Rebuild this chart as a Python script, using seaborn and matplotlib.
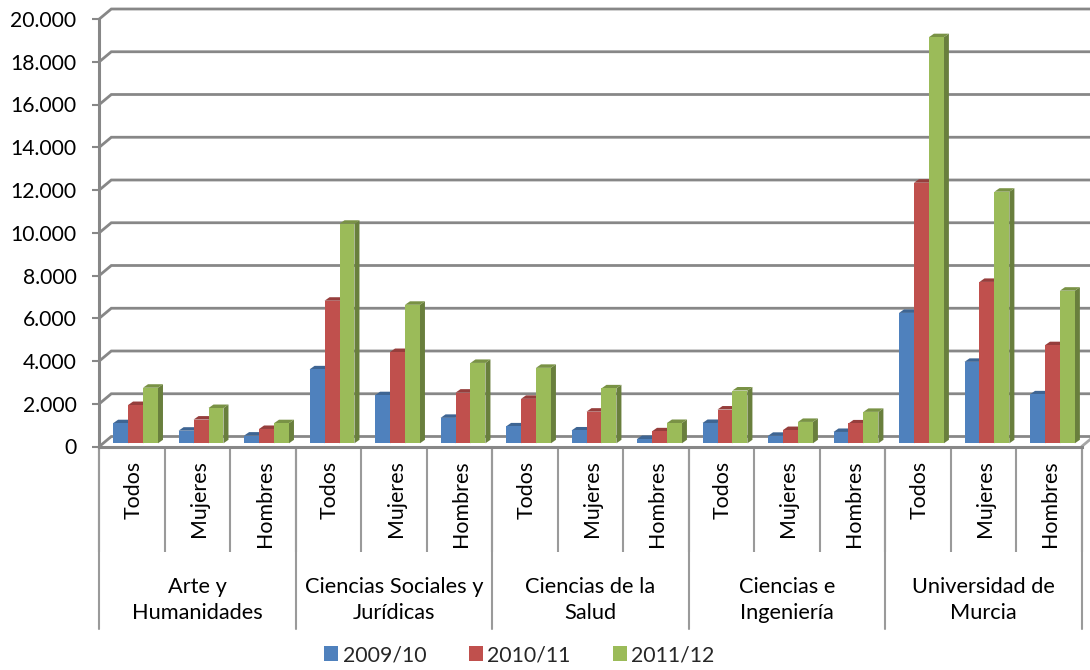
import matplotlib
matplotlib.use("Agg")
import matplotlib.pyplot as plt
from matplotlib.patches import Polygon
from matplotlib.colors import to_rgb
from matplotlib.transforms import ScaledTranslation
import pandas as pd
import seaborn as sns

groups = ["Arte y\nHumanidades", "Ciencias Sociales y\nJurídicas", "Ciencias de la\nSalud",
          "Ciencias e\nIngeniería", "Universidad de\nMurcia"]
subgroups = ["Todos", "Mujeres", "Hombres"]
years = ["2009/10", "2010/11", "2011/12"]
colors = ["#4F81BD", "#C0504D", "#9BBB59"]
v2009 = [940, 590, 360, 3460, 2250, 1190, 790, 600, 200, 950, 350, 530, 6100, 3810, 2290]
v2010 = [1790, 1110, 670, 6670, 4270, 2370, 2080, 1480, 560, 1580, 620, 930, 12190, 7550, 4590]
v2011 = [2600, 1650, 940, 10270, 6480, 3760, 3530, 2570, 950, 2470, 1000, 1470, 19000, 11770, 7140]
ytick_values = list(range(0, 20001, 2000))

W, H = 1090, 670
L, R, T, B = 99.3, 1081.7, 19.0, 446.5
sns.set_theme(style="white")
plt.rcParams["font.family"] = ["Lato", "DejaVu Sans"]

fig = plt.figure(figsize=(W / 100, H / 100), dpi=100)
ax = fig.add_axes([L / W, 1 - B / H, (R - L) / W, (B - T) / H])
ax.patch.set_alpha(0)

keys = [f"{g}|{s}" for g in groups for s in subgroups]
df = pd.DataFrame({
    "key": keys * 3,
    "valor": v2009 + v2010 + v2011,
    "Curso": sum([[y] * len(keys) for y in years], []),
})
sns.barplot(data=df, x="key", y="valor", hue="Curso", order=keys, hue_order=years,
            palette=colors, width=0.685, gap=0, saturation=1, errorbar=None,
            linewidth=0, ax=ax, zorder=3)
ax.set_xlim(-0.5, 14.5)
ax.set_ylim(0, 20000)
ax.set_xlabel("")
ax.set_ylabel("")

px_x = (R - L) / 15
px_y = 20000 / (B - T)
GRID = "#878787"

# back wall and floor of the 3-D box
back_dx, back_dy = 12 / px_x, 10 * px_y
for v in ytick_values:
    ax.plot([-0.5, -0.5 + back_dx, 14.5 + back_dx], [v, v + back_dy, v + back_dy],
            color=GRID, lw=2.0, clip_on=False, zorder=1, solid_joinstyle="miter")
ax.plot([14.5, 14.5 + back_dx], [0, back_dy], color="#A6A6A6", lw=2.0, clip_on=False, zorder=1)

# bars lifted into the box, with top and side faces from their own geometry
shift_x, lift = 3.5 / px_x, 3.2 * px_y
depth_x, depth_y = 5 / px_x, 3.5 * px_y


def shade(c, f):
    return tuple(x * f for x in to_rgb(c))


for container, col in zip(ax.containers, colors):
    for p in container:
        p.set_x(p.get_x() + shift_x)
        p.set_y(lift)
        x0, x1, y0 = p.get_x(), p.get_x() + p.get_width(), lift
        y1 = y0 + p.get_height()
        ax.add_patch(Polygon([(x1, y0), (x1 + depth_x, y0 + depth_y), (x1 + depth_x, y1 + depth_y), (x1, y1)],
                             fc=shade(col, 0.68), ec="none", zorder=2.9, clip_on=False))
        ax.add_patch(Polygon([(x0, y1), (x0 + depth_x, y1 + depth_y), (x1 + depth_x, y1 + depth_y), (x1, y1)],
                             fc=shade(col, 0.78), ec="none", zorder=2.9, clip_on=False))

sns.despine(ax=ax, top=True, right=True)
for s in ("left", "bottom"):
    ax.spines[s].set_color(GRID)
    ax.spines[s].set_linewidth(2.2)
    ax.spines[s].set_zorder(5)

ax.set_yticks(ytick_values)
ax.set_yticklabels([f"{v:,}".replace(",", ".") for v in ytick_values])
ax.tick_params(axis="y", length=5, width=1.5, color=GRID, pad=11.5, labelsize=15.2, labelcolor="black", left=True)

ax.set_xticks(range(15))
ax.set_xticklabels(subgroups * 5, rotation=90, fontsize=15.4, color="black", va="top", ha="center")
ax.tick_params(axis="x", which="major", length=0, pad=10)
offset = ScaledTranslation(1.5 / 100, 0, fig.dpi_scale_trans)
for lab in ax.get_xticklabels():
    lab.set_transform(lab.get_transform() + offset)
ax.set_xticks([i - 0.5 for i in range(16)], minor=True)
ax.tick_params(axis="x", which="minor", length=(552 - B) * 0.72, width=1.5, color="#9A9A9A", bottom=True)

trans = ax.get_xaxis_transform()
for i in range(0, 16, 3):
    ax.plot([i - 0.5, i - 0.5], [0, -(629 - B) / (B - T)], transform=trans, color="#9A9A9A",
            lw=1.5, clip_on=False, zorder=1)
for i, g in enumerate(groups):
    ax.text(3 * i + 1, -(600 - B) / (B - T), g, transform=trans, ha="center", va="center",
            fontsize=15.7, color="black", linespacing=1.36)

LEG = 15.3
sns.move_legend(ax, "center", bbox_to_anchor=((519.5 - L) / (R - L), -(655 - B) / (B - T)), ncol=3,
                frameon=False, title=None, fontsize=LEG, handlelength=0.66, handleheight=0.66,
                handletextpad=0.2, columnspacing=2.0, borderpad=0)

fig.savefig("out.png", dpi=100, facecolor="white")
